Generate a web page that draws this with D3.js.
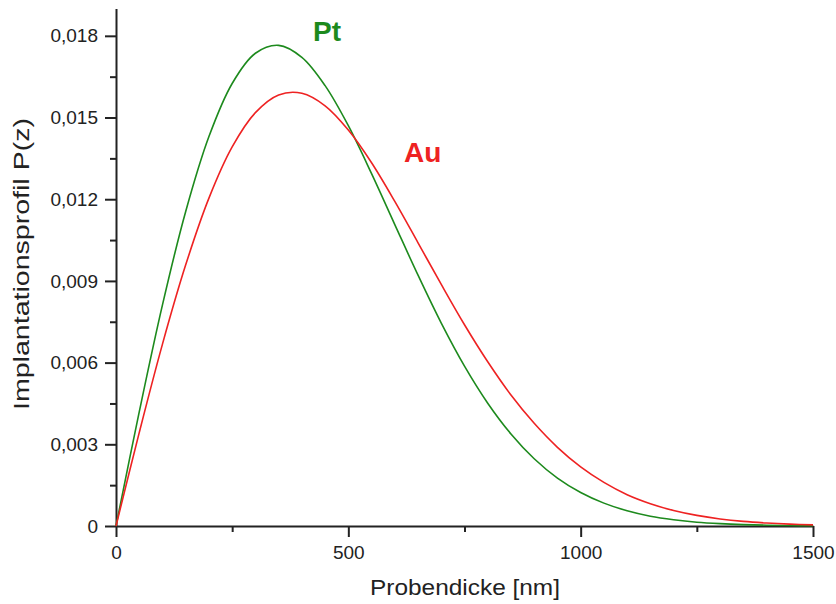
<!DOCTYPE html>
<html>
<head>
<meta charset="utf-8">
<script src="https://cdn.jsdelivr.net/npm/d3@7"></script>
<style>
  body { margin: 0; background: #fff; }
  svg { display: block; }
  text { font-family: "Liberation Sans", Arial, sans-serif; }
</style>
</head>
<body>
<svg id="chart" width="836" height="604"></svg>
<script>
// Sample depth in nm
const depth = [0, 50, 100, 150, 200, 250, 300, 350, 400, 450, 500, 550, 600, 650, 700,
  750, 800, 850, 900, 950, 1000, 1050, 1100, 1150, 1200, 1250, 1300, 1350, 1400, 1450, 1500];

// Implantation profile P(z) for platinum
const pt = [0, 0.00419, 0.00812, 0.01155, 0.01430, 0.01625, 0.01736, 0.01765, 0.01721, 0.01617,
  0.01470, 0.01294, 0.01107, 0.00921, 0.00745, 0.00587, 0.00451, 0.00338, 0.00247, 0.00176,
  0.00123, 0.00084, 0.00056, 0.00036, 0.00023, 0.00014, 0.000086, 0.000051, 0.00003, 0.000017, 0.000009];

// Implantation profile P(z) for gold
const au = [0, 0.00343, 0.00668, 0.00959, 0.01204, 0.01392, 0.01518, 0.01583, 0.01589, 0.01543,
  0.01454, 0.01334, 0.01192, 0.01040, 0.00887, 0.00739, 0.00603, 0.00481, 0.00377, 0.00289,
  0.00217, 0.00160, 0.00115, 0.00082, 0.00057, 0.00039, 0.00026, 0.00017, 0.00011, 0.000069, 0.000043];

const yTicks = [0, 0.003, 0.006, 0.009, 0.012, 0.015, 0.018];
const yTickLabels = ["0", "0,003", "0,006", "0,009", "0,012", "0,015", "0,018"];
const yMinorTicks = [0.0015, 0.0045, 0.0075, 0.0105, 0.0135, 0.0165];
const xTicks = [0, 500, 1000, 1500];
const xTickLabels = ["0", "500", "1000", "1500"];
const xMinorTicks = [250, 750, 1250];

const series = [
  { name: "Pt", values: pt, color: "#1d8a1d" },
  { name: "Au", values: au, color: "#ee2222" }
];

const svg = d3.select("#chart");
const x = d3.scaleLinear().domain([0, 1500]).range([116, 813]);
const y = d3.scaleLinear().domain([0, 0.019]).range([526, 8.6]);

const axisColor = "#222";

// minor ticks
svg.append("g")
  .attr("transform", `translate(${x(0)},0)`)
  .call(d3.axisLeft(y).tickValues(yMinorTicks).tickSize(6).tickSizeOuter(0).tickFormat(""))
  .call(g => g.select(".domain").remove())
  .call(g => g.selectAll("line").attr("stroke", axisColor).attr("stroke-width", 2));

svg.append("g")
  .attr("transform", `translate(0,${y(0)})`)
  .call(d3.axisBottom(x).tickValues(xMinorTicks).tickSize(6).tickSizeOuter(0).tickFormat(""))
  .call(g => g.select(".domain").remove())
  .call(g => g.selectAll("line").attr("stroke", axisColor).attr("stroke-width", 2));

// major axes
svg.append("g")
  .attr("transform", `translate(${x(0)},0)`)
  .call(d3.axisLeft(y).tickValues(yTicks).tickSize(11).tickSizeOuter(0).tickPadding(7)
    .tickFormat((d, i) => yTickLabels[i]))
  .call(g => g.select(".domain").attr("stroke", axisColor).attr("stroke-width", 2))
  .call(g => g.selectAll("line").attr("stroke", axisColor).attr("stroke-width", 2))
  .call(g => g.selectAll("text").attr("font-size", 19).attr("fill", "#222")
    .attr("font-family", "Liberation Sans, Arial, sans-serif"));

svg.append("g")
  .attr("transform", `translate(0,${y(0)})`)
  .call(d3.axisBottom(x).tickValues(xTicks).tickSize(11).tickSizeOuter(0).tickPadding(9)
    .tickFormat((d, i) => xTickLabels[i]))
  .call(g => g.select(".domain").attr("stroke", axisColor).attr("stroke-width", 2))
  .call(g => g.selectAll("line").attr("stroke", axisColor).attr("stroke-width", 2))
  .call(g => g.selectAll("text").attr("font-size", 19).attr("fill", "#222")
    .attr("font-family", "Liberation Sans, Arial, sans-serif"));

// curves
const line = d3.line()
  .x((d, i) => x(depth[i]))
  .y(d => y(d))
  .curve(d3.curveCatmullRom.alpha(0.5));

svg.append("g").selectAll("path")
  .data(series)
  .join("path")
  .attr("d", d => line(d.values))
  .attr("fill", "none")
  .attr("stroke", d => d.color)
  .attr("stroke-width", 1.6);

// series labels
svg.append("text").attr("x", 313).attr("y", 41)
  .attr("font-size", 28).attr("font-weight", "bold").attr("fill", "#1d8a1d").text("Pt");
svg.append("text").attr("x", 404).attr("y", 162)
  .attr("font-size", 28).attr("font-weight", "bold").attr("fill", "#ee2222").text("Au");

// axis titles
svg.append("text")
  .attr("x", 465).attr("y", 595)
  .attr("text-anchor", "middle")
  .attr("font-size", 22).attr("fill", "#222")
  .attr("textLength", 190).attr("lengthAdjust", "spacingAndGlyphs")
  .text("Probendicke [nm]");

svg.append("text")
  .attr("transform", "translate(29,264) rotate(-90)")
  .attr("text-anchor", "middle")
  .attr("font-size", 22).attr("fill", "#222")
  .attr("textLength", 292).attr("lengthAdjust", "spacingAndGlyphs")
  .text("Implantationsprofil P(z)");
</script>
</body>
</html>
